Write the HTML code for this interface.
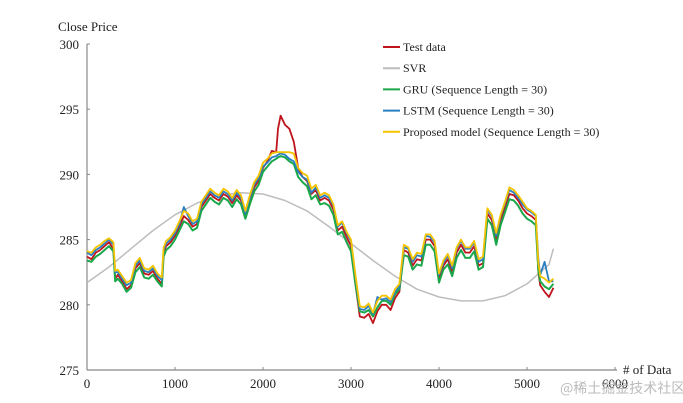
<!DOCTYPE html>
<html><head><meta charset="utf-8"><style>
body{margin:0;background:#fff;}
svg{display:block;font-family:"Liberation Serif","Noto Serif CJK SC",serif;}
</style></head><body>
<svg id="chart" width="683" height="403" viewBox="0 0 683 403" xmlns="http://www.w3.org/2000/svg">
<g id="axes"></g>
<g id="series"></g>
<g id="legend"></g>
<text x="58" y="31" font-size="13" fill="#222">Close Price</text>
<text x="623" y="374" font-size="13" fill="#222"># of Data</text>
<text x="560" y="393" font-size="14" fill="#bbb" font-family="'Noto Sans CJK SC',sans-serif">@稀土掘金技术社区</text>
</svg>
<script>
const xTicks=[0,1000,2000,3000,4000,5000,6000];
const yTicks=[275,280,285,290,295,300];
const xs=[0,50,100,150,200,250,300,320,350,400,450,500,550,600,650,700,750,800,850,870,900,950,1000,1050,1100,1150,1200,1250,1300,1350,1400,1450,1500,1550,1600,1650,1700,1750,1800,1850,1900,1950,2000,2050,2100,2150,2170,2200,2250,2300,2350,2400,2450,2500,2550,2600,2650,2700,2750,2800,2850,2900,2950,3000,3050,3100,3150,3200,3250,3300,3350,3400,3450,3500,3550,3600,3650,3700,3750,3800,3850,3900,3950,4000,4050,4100,4150,4200,4250,4300,4350,4400,4450,4500,4550,4600,4650,4700,4750,4800,4850,4900,4950,5000,5050,5100,5130,5150,5200,5250,5300];
const testData=[283.7,283.5,284.0,284.2,284.5,284.8,284.3,282.0,282.3,281.8,281.2,281.5,282.8,283.2,282.4,282.3,282.6,282.0,281.6,284.0,284.5,284.8,285.3,286.0,286.8,286.5,286.0,286.2,287.5,288.0,288.5,288.2,288.0,288.5,288.3,287.8,288.4,288.0,286.8,288.0,289.0,289.5,290.5,291.0,291.8,291.7,293.5,294.5,293.8,293.5,292.5,290.5,289.8,289.5,288.5,288.8,288.0,288.2,288.0,287.3,285.7,286.0,285.2,284.5,281.6,279.1,279.0,279.3,278.6,279.5,280.0,280.0,279.6,280.5,281.0,284.2,284.0,283.0,283.5,283.4,285.0,285.0,284.5,281.9,283.0,283.5,282.5,284.0,284.6,284.0,284.0,284.5,283.0,283.2,287.0,286.5,285.0,286.5,287.5,288.5,288.4,288.0,287.4,287.0,286.8,286.5,282.5,281.5,281.0,280.6,281.3];
const gruData=[283.4,283.3,283.7,283.9,284.2,284.5,284.1,281.8,282.0,281.6,281.0,281.3,282.5,282.9,282.1,282.0,282.3,281.8,281.4,283.7,284.2,284.5,285.0,285.7,286.4,286.2,285.7,285.9,287.2,287.7,288.2,287.9,287.7,288.2,288.0,287.5,288.1,287.7,286.6,287.7,288.7,289.2,290.2,290.6,291.0,291.2,291.3,291.4,291.3,291.0,290.8,289.8,289.4,289.1,288.1,288.4,287.7,287.8,287.6,286.9,285.4,285.6,284.8,284.1,281.6,279.5,279.4,279.6,279.1,279.8,280.3,280.3,280.0,280.8,281.2,283.8,283.7,282.7,283.1,283.0,284.6,284.6,284.1,281.7,282.7,283.1,282.2,283.6,284.2,283.6,283.6,284.1,282.7,282.9,286.6,286.1,284.6,286.1,287.1,288.1,288.0,287.6,287.0,286.6,286.4,286.1,282.6,281.8,281.4,281.2,281.6];
const lstmData=[284.0,283.8,284.2,284.4,284.7,285.0,284.6,282.5,282.5,282.0,281.5,281.7,283.0,283.4,282.6,282.5,282.8,282.2,281.9,284.2,284.7,285.0,285.5,286.2,287.5,286.8,286.2,286.4,287.7,288.2,288.7,288.4,288.2,288.7,288.5,288.0,288.6,288.2,287.0,288.2,289.2,289.7,290.6,290.9,291.3,291.4,291.5,291.6,291.5,291.2,291.0,290.2,289.8,289.6,288.6,289.0,288.2,288.4,288.2,287.6,286.0,286.3,285.5,284.9,282.2,279.7,279.6,279.9,279.3,280.6,280.4,280.5,280.2,281.0,281.4,284.4,284.3,283.3,283.8,283.7,285.3,285.2,284.8,282.3,283.2,283.8,282.8,284.3,284.9,284.3,284.3,284.8,283.3,283.5,287.3,286.8,285.3,286.8,287.8,288.8,288.6,288.2,287.7,287.3,287.1,286.8,283.5,282.3,283.3,281.8,281.8];
const propData=[284.1,284.0,284.4,284.6,284.9,285.1,284.8,282.6,282.7,282.2,281.7,281.9,283.2,283.6,282.8,282.7,283.0,282.4,282.1,284.4,284.9,285.2,285.7,286.4,287.2,287.0,286.4,286.6,287.9,288.4,288.9,288.6,288.4,288.9,288.7,288.2,288.8,288.4,287.2,288.4,289.4,289.9,290.9,291.2,291.6,291.7,291.7,291.7,291.7,291.7,291.6,290.5,290.1,289.9,288.9,289.2,288.4,288.6,288.4,287.7,286.1,286.4,285.6,285.0,282.3,279.9,279.8,280.1,279.4,280.3,280.7,280.7,280.4,281.2,281.6,284.6,284.4,283.5,284.0,283.9,285.4,285.4,284.9,282.4,283.4,283.9,283.0,284.4,285.0,284.4,284.4,284.9,283.5,283.7,287.4,286.9,285.5,286.9,287.9,289.0,288.8,288.4,287.9,287.4,287.2,286.9,283.2,282.2,282.0,281.7,282.0];
const svrXs=[0,250,500,750,1000,1250,1500,1750,2000,2250,2500,2750,3000,3250,3500,3750,4000,4250,4500,4750,5000,5250,5300];
const svrData=[281.7,282.9,284.3,285.7,286.9,287.8,288.4,288.6,288.5,288.0,287.2,286.0,284.7,283.4,282.2,281.2,280.6,280.3,280.3,280.7,281.6,283.1,284.3];
const legendLabels=["Test data","SVR","GRU (Sequence Length = 30)","LSTM (Sequence Length = 30)","Proposed model (Sequence Length = 30)"];

const NS="http://www.w3.org/2000/svg";
const X0=87,X1=615,Y0=370,Y1=44;
const xScale=v=>X0+(v-0)/(6000-0)*(X1-X0);
const yScale=v=>Y0-(v-275)/(300-275)*(Y0-Y1);
function mk(tag,attrs,parent){const e=document.createElementNS(NS,tag);for(const k in attrs)e.setAttribute(k,attrs[k]);parent.appendChild(e);return e;}
const axes=document.getElementById('axes');
let a=mk('line',{x1:X0,y1:Y0,x2:617,y2:Y0,stroke:'#888','stroke-width':1.2},axes);


a=mk('line',{x1:X0,y1:Y0,x2:X0,y2:Y1,stroke:'#888','stroke-width':1.2},axes);


xTicks.forEach(t=>{
  const x=xScale(t);
  const l=mk('line',{x1:x,y1:Y0,x2:x,y2:Y0-3,stroke:'#888'},axes);
  
  
  const tx=mk('text',{x:x,y:Y0+18,'text-anchor':'middle','font-size':13,fill:'#222'},axes);
  tx.textContent=t;
  
  
});
yTicks.forEach(t=>{
  const y=yScale(t);
  const l=mk('line',{x1:X0,y1:y,x2:X0+3,y2:y,stroke:'#888'},axes);
  
  
  const tx=mk('text',{x:X0-8,y:y+5,'text-anchor':'end','font-size':13,fill:'#222'},axes);
  tx.textContent=t;
  
  
});
const ser=document.getElementById('series');
function line(xv,yv,color,w,name){
  const n=Math.min(xv.length,yv.length);let d='';
  for(let i=0;i<n;i++)d+=(i?'L':'M')+xScale(xv[i]).toFixed(1)+','+yScale(yv[i]).toFixed(1);
  const p=mk('path',{d:d,fill:'none',stroke:color,'stroke-width':w,'stroke-linejoin':'round'},ser);
  
  
}
line(svrXs,svrData,'#bdbdbd',1.5,'svr-line');
line(xs,testData,'#c0141c',1.8,'test-data-line');
line(xs,gruData,'#1aa84a',2,'gru-line');
line(xs,lstmData,'#2a7fc0',1.8,'lstm-line');
line(xs,propData,'#f5c400',1.8,'proposed-model-line');
const colors=['#c0141c','#bdbdbd','#1aa84a','#2a7fc0','#f5c400'];
const leg=document.getElementById('legend');
legendLabels.forEach((lab,i)=>{
  const y=47+i*21.2;
  const l=mk('line',{x1:383,y1:y,x2:400,y2:y,stroke:colors[i],'stroke-width':2},leg);
  
  
  const tx=mk('text',{x:403,y:y+4,'font-size':12,fill:'#222'},leg);
  tx.textContent=lab;
  
  
});
</script>
</body></html>
